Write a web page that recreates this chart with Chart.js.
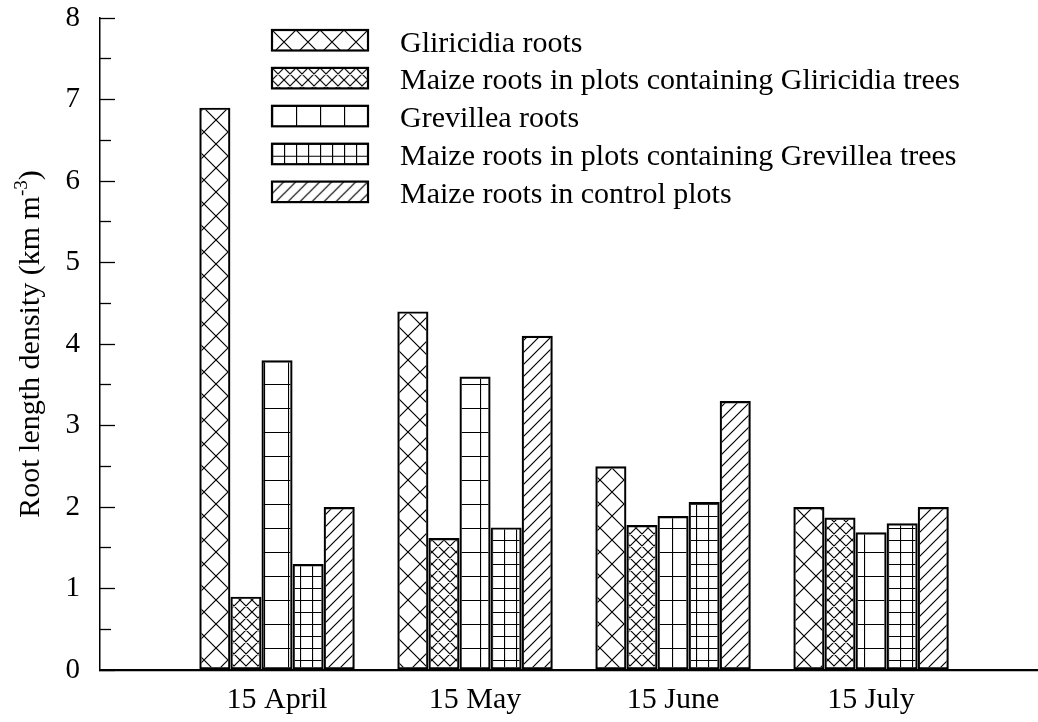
<!DOCTYPE html>
<html>
<head>
<meta charset="utf-8">
<script src="https://cdn.jsdelivr.net/npm/chart.js@4.4.0/dist/chart.umd.min.js"></script>
<style>
  html, body { margin: 0; padding: 0; background: #fff; }
  #wrap { position: relative; width: 1038px; height: 722px; }
</style>
</head>
<body>
<div id="wrap"><canvas id="chart"></canvas></div>
<script>
/* ============================
   DATA
   ============================ */
const categoryPos = [1, 2, 3, 4];
const dateLabels = ['15 April', '15 May', '15 June', '15 July'];
const seriesNames = [
  'Gliricidia roots',
  'Maize roots in plots containing Gliricidia trees',
  'Grevillea roots',
  'Maize roots in plots containing Grevillea trees',
  'Maize roots in control plots'
];
const gliricidiaRoots = [6.9, 4.4, 2.5, 2.0];
const maizeGliricidia = [0.9, 1.62, 1.78, 1.87];
const grevilleaRoots = [3.8, 3.6, 1.89, 1.69];
const maizeGrevillea = [1.3, 1.75, 2.06, 1.8];
const maizeControl = [2.0, 4.1, 3.3, 2.0];
const yMin = 0, yMax = 8, yStep = 0.5;

const SERIF = 'Liberation Serif';
const canvas = document.getElementById('chart');
const ctx2d = canvas.getContext('2d');

// small tiled hatch patterns (cross, diag, grid)
function hatch(kind, p) {
  const tile = document.createElement('canvas');
  tile.width = p; tile.height = p;
  const g = tile.getContext('2d');
  g.strokeStyle = '#000';
  g.lineWidth = 1.2;
  g.beginPath();
  if (kind === 'cross' || kind === 'diag') {
    g.moveTo(-1, p + 1); g.lineTo(p + 1, -1);
    g.moveTo(-1, 1); g.lineTo(1, -1);
    g.moveTo(p - 1, p + 1); g.lineTo(p + 1, p - 1);
  }
  if (kind === 'cross') {
    g.moveTo(-1, -1); g.lineTo(p + 1, p + 1);
    g.moveTo(p - 1, -1); g.lineTo(p + 1, 1);
    g.moveTo(-1, p - 1); g.lineTo(1, p + 1);
  }
  if (kind === 'grid') {
    g.moveTo(0.5, 0); g.lineTo(0.5, p);
    g.moveTo(0, 0.5); g.lineTo(p, 0.5);
  }
  g.stroke();
  return ctx2d.createPattern(tile, 'repeat');
}

const fills = [hatch('cross', 24), hatch('cross', 12), hatch('grid', 24), hatch('grid', 12), hatch('diag', 12)];
const seriesValues = [gliricidiaRoots, maizeGliricidia, grevilleaRoots, maizeGrevillea, maizeControl];

const datasets = seriesValues.map((vals, i) => ({
  label: seriesNames[i],
  data: categoryPos.map((c, j) => ({ x: c, y: vals[j] })),
  backgroundColor: fills[i],
  borderColor: '#000',
  borderWidth: 2.2,
  borderSkipped: false,
  barPercentage: 1.0,
  categoryPercentage: 0.785
}));

/* ============================
   PLUGINS: legend + y title
   ============================ */
const hatchLegend = {
  id: 'hatchLegend',
  afterDraw(chart) {
    const c = chart.ctx;
    c.save();
    c.font = `30px "${SERIF}"`;
    c.fillStyle = '#000';
    c.textBaseline = 'alphabetic';
    chart.data.datasets.forEach((ds, i) => {
      const bx = 272, by = 30 + i * 37.9, bw = 96, bh = 20.5;
      c.save();
      c.translate(bx, by);
      c.fillStyle = '#fff';
      c.fillRect(0, 0, bw, bh);
      c.fillStyle = ds.backgroundColor;
      c.fillRect(0, 0, bw, bh);
      c.strokeStyle = '#000';
      c.lineWidth = 2.2;
      c.strokeRect(0, 0, bw, bh);
      c.restore();
      c.fillText(ds.label, 400, by + 21.5);
    });
    c.restore();
  }
};

const yTitle = {
  id: 'yTitle',
  afterDraw(chart) {
    const c = chart.ctx;
    const main = 'Root length density (km m';
    const sup = '-3';
    const close = ')';
    c.save();
    c.fillStyle = '#000';
    c.textBaseline = 'alphabetic';
    const bigFont = `30px "${SERIF}"`, smallFont = `19px "${SERIF}"`;
    c.font = bigFont;
    const w1 = c.measureText(main).width, w3 = c.measureText(close).width;
    c.font = smallFont;
    const w2 = c.measureText(sup).width;
    const total = w1 + w2 + w3;
    const area = chart.chartArea;
    c.translate(39, (area.top + area.bottom) / 2);
    c.rotate(-Math.PI / 2);
    let x = -total / 2;
    c.font = bigFont; c.fillText(main, x, 0); x += w1;
    c.font = smallFont; c.fillText(sup, x, -12); x += w2;
    c.font = bigFont; c.fillText(close, x, 0);
    c.restore();
  }
};

/* ============================
   CHART
   ============================ */
new Chart(canvas, {
  type: 'bar',
  data: { datasets },
  plugins: [hatchLegend, yTitle],
  options: {
    responsive: true,
    maintainAspectRatio: false,
    animation: false,
    layout: { padding: { top: 18, right: 0, left: 0, bottom: 0 } },
    plugins: { legend: { display: false }, tooltip: { enabled: false } },
    scales: {
      x: {
        type: 'linear',
        min: 0.106,
        max: 4.843,
        offset: false,
        afterBuildTicks: (scale) => { scale.ticks = categoryPos.map(v => ({ value: v })); },
        afterFit: (scale) => { scale.height = 52; scale.paddingLeft = 0; scale.paddingRight = 0; },
        grid: { display: false, drawTicks: false },
        border: { display: true, color: '#000', width: 2.2 },
        ticks: {
          color: '#000',
          padding: 12,
          autoSkip: false,
          maxRotation: 0,
          font: { family: SERIF, size: 30 },
          callback: (v) => dateLabels[categoryPos.indexOf(v)] ?? ''
        }
      },
      y: {
        min: yMin,
        max: yMax,
        afterFit: (scale) => { scale.width = 100; scale.paddingTop = 0; scale.paddingBottom = 0; },
        grid: {
          drawOnChartArea: false,
          drawTicks: true,
          tickLength: -15,
          tickColor: '#000',
          tickWidth: 1.3,
          tickBorderDash: (ctx) => Number.isInteger(ctx.tick.value) ? [] : [11, 4],
          tickBorderDashOffset: (ctx) => Number.isInteger(ctx.tick.value) ? 0 : 11
        },
        border: { display: true, color: '#000', width: 1.5 },
        ticks: {
          stepSize: yStep,
          autoSkip: false,
          color: '#000',
          padding: 35,
          font: { family: SERIF, size: 29 },
          callback: (v) => Number.isInteger(v) ? String(v) : ''
        }
      }
    }
  }
});
</script>
</body>
</html>
